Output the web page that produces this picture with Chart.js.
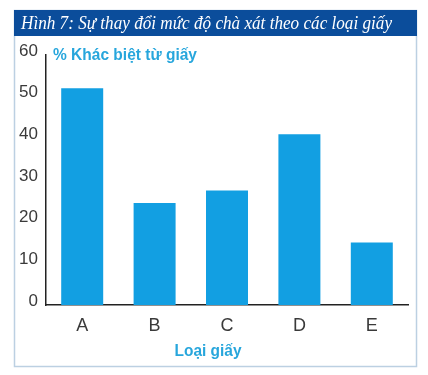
<!DOCTYPE html>
<html>
<head>
<meta charset="utf-8">
<script src="https://cdn.jsdelivr.net/npm/chart.js@4"></script>
<style>
  html, body { margin: 0; padding: 0; background: #fff; }
  #wrap { width: 428px; height: 375px; position: relative; }
</style>
</head>
<body>
<div id="wrap"><canvas id="chart" width="428" height="375"></canvas></div>
<script>
// data
let paperTypes = ["A", "B", "C", "D", "E"]
let differencePct = [52, 24.5, 27.5, 41, 15]
let yTicks = [0, 10, 20, 30, 40, 50, 60]

let figTitle = "Hình 7: Sự thay đổi mức độ chà xát theo các loại giấy"
let yTitle = "% Khác biệt từ giấy"
let xTitle = "Loại giấy"

let cyan = "#27a6dc"
let tickFont = "'Liberation Sans Narrow', 'Liberation Sans', sans-serif"

// frame, title bar and the two axis titles
const decor = {
  id: "decor",
  beforeDraw(chart) {
    let ctx = chart.ctx
    ctx.save()
    ctx.fillStyle = "#fff"
    ctx.fillRect(0, 0, 428, 375)
    ctx.strokeStyle = "#bcd0e2"
    ctx.lineWidth = 1.5
    ctx.strokeRect(14.5, 10.5, 402, 356)
    ctx.fillStyle = "#0b4d9b"
    ctx.fillRect(14, 10, 403, 26)
    ctx.restore()
  },
  afterDraw(chart) {
    let ctx = chart.ctx
    ctx.save()
    ctx.textBaseline = "middle"
    ctx.fillStyle = "#fff"
    ctx.font = "italic 18px 'Liberation Serif'"
    ctx.textAlign = "left"
    ctx.fillText(figTitle, 21, 24.5, 371)
    ctx.fillStyle = cyan
    ctx.font = "bold 16px 'Liberation Sans'"
    ctx.fillText(yTitle, 53, 55.5, 144)
    ctx.textAlign = "center"
    ctx.font = "bold 17px 'Liberation Sans'"
    ctx.fillText(xTitle, 208, 351, 67)
    ctx.restore()
  }
}

new Chart(document.getElementById("chart"), {
  type: "bar",
  data: {
    labels: paperTypes,
    datasets: [{
      data: differencePct,
      backgroundColor: "#129fe2",
      borderWidth: 0,
      barPercentage: 0.58,
      categoryPercentage: 1
    }]
  },
  options: {
    responsive: false,
    animation: false,
    devicePixelRatio: 1,
    layout: { padding: { top: 55, right: 20, left: 0, bottom: 0 } },
    plugins: { legend: { display: false }, tooltip: { enabled: false } },
    scales: {
      x: {
        grid: { display: false, drawTicks: false },
        border: { display: true, color: "#222", width: 1.5 },
        ticks: { color: "#3a3a3a", padding: 10, font: { size: 18, family: tickFont } },
        afterFit(scale) { scale.height = 70 }
      },
      y: {
        min: 0,
        max: 60,
        afterBuildTicks(scale) { scale.ticks = yTicks.map(v => ({ value: v })) },
        grid: { display: false, drawTicks: false },
        border: { display: true, color: "#222", width: 1.5 },
        ticks: { color: "#3a3a3a", padding: 8, labelOffset: -4, font: { size: 17, family: tickFont } },
        afterFit(scale) { scale.width = 46 }
      }
    }
  },
  plugins: [decor]
})
</script>
</body>
</html>
